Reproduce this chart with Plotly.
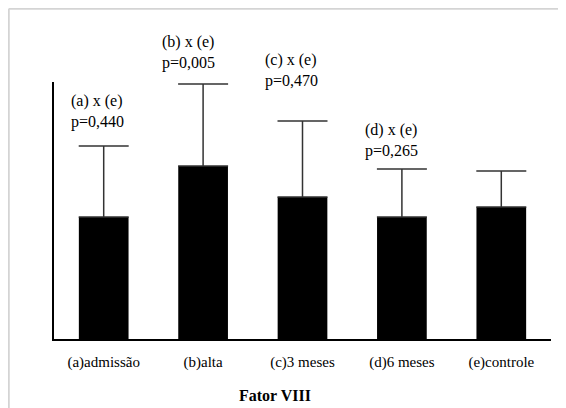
import plotly.graph_objects as go

categories = ["(a)admissão", "(b)alta", "(c)3 meses", "(d)6 meses", "(e)controle"]
means = [122, 173, 142, 122, 132]
errors_up = [71, 82, 76, 48, 36]
comparisons = ["(a) x (e)", "(b) x (e)", "(c) x (e)", "(d) x (e)"]
p_values = ["p=0,440", "p=0,005", "p=0,470", "p=0,265"]
title_text = "Fator VIII"

Y_MAX = 257
# layout-only placement of the comparison labels (offset from category, paper y)
label_dx = [-0.35, -0.43, -0.40, -0.39]
label_y = [0.887, 1.113, 1.043, 0.774]

serif = "Liberation Serif"

fig = go.Figure()
fig.add_trace(go.Bar(
    x=list(range(len(categories))),
    y=means,
    width=0.5,
    marker=dict(color="black", line=dict(width=0)),
    error_y=dict(type="data", symmetric=False, array=errors_up,
                 arrayminus=[0] * len(means), color="#333333",
                 thickness=1.5, width=25),
    showlegend=False,
))

annotations = []
for i, (c, p) in enumerate(zip(comparisons, p_values)):
    annotations.append(dict(
        x=i + label_dx[i], y=label_y[i], xref="x", yref="paper",
        text=c + "<br>" + p, showarrow=False, xanchor="left", yanchor="middle",
        align="left", font=dict(family=serif, size=16, color="black"),
    ))
annotations.append(dict(
    x=0.445, y=-0.2607, xref="paper", yref="paper", text="<b>" + title_text + "</b>",
    showarrow=False, xanchor="center", yanchor="bottom",
    font=dict(family=serif, size=16, color="black"),
))

fig.update_layout(
    width=558, height=400,
    margin=dict(l=46, r=15, t=74, b=69),
    paper_bgcolor="white", plot_bgcolor="white",
    annotations=annotations,
    shapes=[
        dict(type="line", xref="paper", yref="paper", x0=-0.091, x1=1.1,
             y0=1.285, y1=1.285, line=dict(color="#d4d4d4", width=2)),
        dict(type="line", xref="paper", yref="paper", x0=-0.091, x1=-0.091,
             y0=1.285, y1=-0.35, line=dict(color="#d4d4d4", width=2)),
    ],
)
fig.update_xaxes(
    range=[-0.5, len(categories) - 0.5],
    tickmode="array", tickvals=list(range(len(categories))), ticktext=categories,
    showline=True, linecolor="black", linewidth=2, ticks="",
    showgrid=False, zeroline=False, ticklabelstandoff=8,
    tickfont=dict(family=serif, size=15, color="black"),
)
fig.update_yaxes(
    range=[0, Y_MAX], showline=True, linecolor="black", linewidth=2,
    ticks="", showticklabels=False, showgrid=False, zeroline=False,
)

fig.write_html("out.html")
